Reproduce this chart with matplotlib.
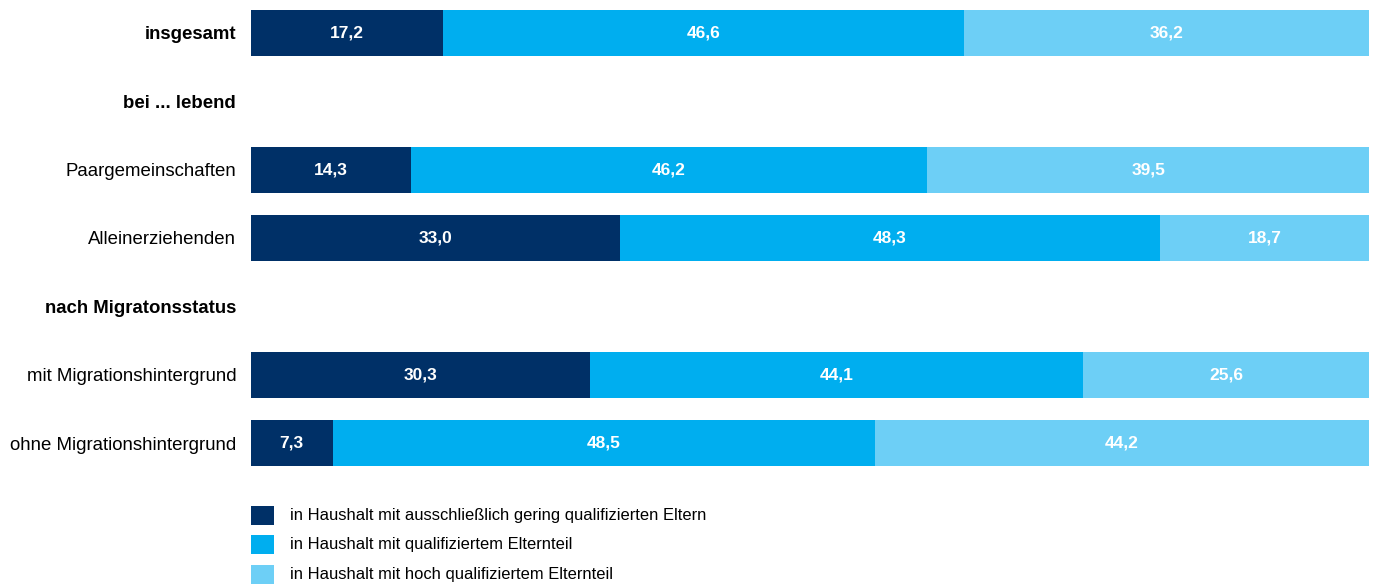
import matplotlib
matplotlib.use("Agg")
import matplotlib.pyplot as plt
from matplotlib.patches import Rectangle

plt.rcParams['font.family'] = ['Liberation Sans', 'DejaVu Sans']

categories = ["insgesamt", "bei ... lebend", "Paargemeinschaften", "Alleinerziehenden",
              "nach Migratonsstatus", "mit Migrationshintergrund", "ohne Migrationshintergrund"]
bold_rows = ["insgesamt", "bei ... lebend", "nach Migratonsstatus"]
gering = [17.2, None, 14.3, 33.0, None, 30.3, 7.3]
qualifiziert = [46.6, None, 46.2, 48.3, None, 44.1, 48.5]
hoch = [36.2, None, 39.5, 18.7, None, 25.6, 44.2]
series_names = ["in Haushalt mit ausschließlich gering qualifizierten Eltern",
                "in Haushalt mit qualifiziertem Elternteil",
                "in Haushalt mit hoch qualifiziertem Elternteil"]
colors = ["#003067", "#00AEEF", "#6DCFF6"]

W, H = 1375, 584
fig = plt.figure(figsize=(W/100, H/100), dpi=100)
top_px, bot_px = -1.2, 477.2
ax = fig.add_axes([251/W, (H-bot_px)/H, 1118/W, (bot_px-top_px)/H])

series = [gering, qualifiziert, hoch]
for i, cat in enumerate(categories):
    left = 0
    for s, col in zip(series, colors):
        v = s[i]
        if v is None:
            continue
        ax.barh(i, v, left=left, height=0.673, color=col, linewidth=0)
        ax.text(left + v/2, i, f"{v:.1f}".replace(".", ","), ha="center", va="center",
                color="white", fontsize=12.5, fontweight="bold")
        left += v

ax.set_xlim(0, 100)
ax.set_ylim(6.5, -0.5)
ax.set_yticks(range(len(categories)))
ax.set_yticklabels(categories, fontsize=13.4)
for lbl in ax.get_yticklabels():
    if lbl.get_text() in bold_rows:
        lbl.set_fontweight("bold")
ax.tick_params(axis="y", length=0, pad=10.7)
ax.tick_params(axis="x", bottom=False, labelbottom=False)
for sp in ax.spines.values():
    sp.set_visible(False)

# legend
sq_tops = [506, 535, 565]
for name, col, t in zip(series_names, colors, sq_tops):
    fig.patches.append(Rectangle((251/W, (H-t-19)/H), 23/W, 19/H, transform=fig.transFigure,
                                 color=col, linewidth=0))
    fig.text(290/W, (H-t-9.5)/H, name, ha="left", va="center", fontsize=11.9)

fig.savefig("out.png", dpi=100)
